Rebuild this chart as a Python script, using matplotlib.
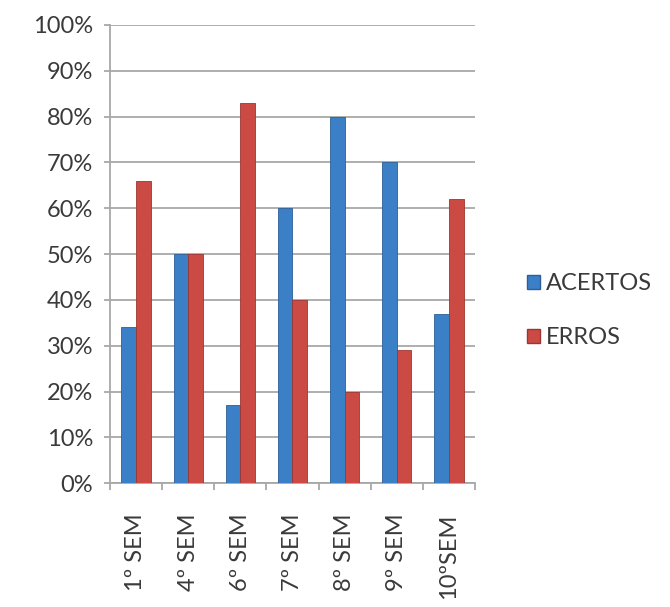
import matplotlib.pyplot as plt
import numpy as np
from matplotlib.patches import Patch

plt.rcParams['font.family'] = ['Lato', 'DejaVu Sans']

semestres = ['1º SEM', '4º SEM', '6º SEM', '7º SEM', '8º SEM', '9º SEM', '10ºSEM']
acertos = [34, 50, 17, 60, 80, 70, 37]
erros = [66, 50, 83, 40, 20, 29, 62]

blue = '#3b80c6'
red = '#cb4a43'
txt = '#3a3a3a'

fig = plt.figure(figsize=(6.7, 6.07), dpi=100)
ax = fig.add_axes([0.164, 0.204, 0.545, 0.755])

x = np.arange(len(semestres))
w = 0.28
ax.bar(x - w / 2, acertos, w, color=blue, edgecolor='#2c5f99', linewidth=0.6, zorder=3)
ax.bar(x + w / 2, erros, w, color=red, edgecolor='#9e3530', linewidth=0.6, zorder=3)

ax.set_xlim(-0.5, len(semestres) - 0.5)
ax.set_ylim(0, 100)
ax.set_yticks(np.arange(0, 101, 10))
ax.set_yticklabels([f'{v}%' for v in range(0, 101, 10)], fontsize=17, color=txt)
ax.yaxis.grid(True, color='#a8a8a8', linewidth=1.3, zorder=0)

# category ticks sit on the boundaries, labels in the middle
ax.set_xticks(np.arange(-0.5, len(semestres), 1))
ax.set_xticklabels([])
ax.set_xticks(x, minor=True)
ax.set_xticklabels(semestres, minor=True, rotation=90, fontsize=17, color=txt)
ax.tick_params(axis='x', which='minor', length=0, pad=22)
ax.tick_params(axis='x', which='major', length=5, color='#a8a8a8', width=1.3)
ax.tick_params(axis='y', length=4, color='#a8a8a8', width=1.3, pad=8)

for side in ['top', 'right']:
    ax.spines[side].set_visible(False)
for side in ['left', 'bottom']:
    ax.spines[side].set_color('#a8a8a8')
    ax.spines[side].set_linewidth(1.3)

handles = [Patch(facecolor=blue, edgecolor='#2c5f99'), Patch(facecolor=red, edgecolor='#9e3530')]
fig.legend(handles, ['ACERTOS', 'ERROS'], loc='center left', bbox_to_anchor=(0.755, 0.488),
           frameon=False, fontsize=17, handlelength=0.55, handleheight=0.55,
           handletextpad=0.25, labelspacing=1.4, labelcolor=txt)

fig.savefig('out.png', dpi=100)
